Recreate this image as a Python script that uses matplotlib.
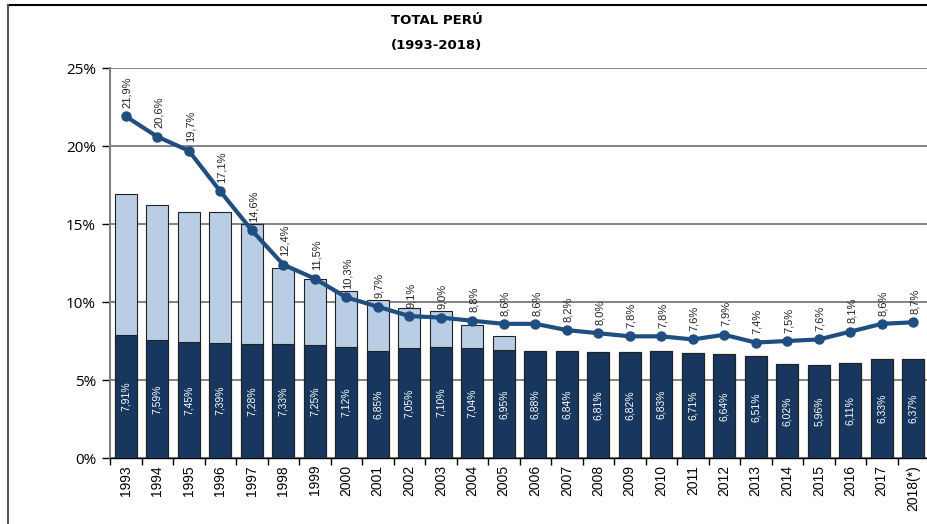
import matplotlib.pyplot as plt
from matplotlib.lines import Line2D

years = ["1993", "1994", "1995", "1996", "1997", "1998", "1999", "2000", "2001",
         "2002", "2003", "2004", "2005", "2006", "2007", "2008", "2009", "2010",
         "2011", "2012", "2013", "2014", "2015", "2016", "2017", "2018(*)"]

# dark bars (labelled values)
base = [7.91, 7.59, 7.45, 7.39, 7.28, 7.33, 7.25, 7.12, 6.85, 7.05, 7.10, 7.04,
        6.95, 6.88, 6.84, 6.81, 6.82, 6.83, 6.71, 6.64, 6.51, 6.02, 5.96, 6.11,
        6.33, 6.37]
base_lbl = ["7,91%", "7,59%", "7,45%", "7,39%", "7,28%", "7,33%", "7,25%", "7,12%",
            "6,85%", "7,05%", "7,10%", "7,04%", "6,95%", "6,88%", "6,84%", "6,81%",
            "6,82%", "6,83%", "6,71%", "6,64%", "6,51%", "6,02%", "5,96%", "6,11%",
            "6,33%", "6,37%"]

# total height of the light bars
total = [16.9, 16.2, 15.8, 15.75, 15.0, 12.15, 11.5, 10.7, 10.1, 9.6, 9.4, 8.5,
         7.8, 6.88, 6.84, 6.81, 6.82, 6.83, 6.71, 6.64, 6.51, 6.02, 5.96, 6.11,
         6.33, 6.37]

# line series
line = [21.9, 20.6, 19.7, 17.1, 14.6, 12.4, 11.5, 10.3, 9.7, 9.1, 9.0, 8.8, 8.6,
        8.6, 8.2, 8.0, 7.8, 7.8, 7.6, 7.9, 7.4, 7.5, 7.6, 8.1, 8.6, 8.7]

dark = "#17375E"
light = "#B9CDE5"
line_col = "#1F4E80"

plt.rcParams["font.family"] = ["Liberation Sans", "DejaVu Sans"]

fig = plt.figure(figsize=(9.27, 5.24), dpi=100)
ax = fig.add_axes([110 / 927, 1 - 458 / 524, 819 / 927, 390 / 524])

x = list(range(len(years)))
w = 0.7
ax.bar(x, total, w, color=light, edgecolor="#222222", linewidth=0.8, zorder=2)
ax.bar(x, base, w, color=dark, edgecolor="#222222", linewidth=0.8, zorder=3)

for i in x:
    ax.text(i, base[i] / 2, base_lbl[i], rotation=90, ha="center", va="center",
            color="white", fontsize=7.5, zorder=4)

ax.plot(x, line, color=line_col, lw=3, marker="o", ms=6.5, zorder=5)
for i in x:
    ax.annotate(f"{line[i]:.1f}%".replace(".", ","), (i, line[i]),
                xytext=(1, 6), textcoords="offset points", rotation=90,
                ha="center", va="bottom", fontsize=8, color="#222222", zorder=6)

ax.set_xlim(-0.5, len(years) - 0.5)
ax.set_ylim(0, 25)
ax.set_yticks([0, 5, 10, 15, 20, 25])
ax.set_yticklabels(["0%", "5%", "10%", "15%", "20%", "25%"], fontsize=11,
                   family=["Open Sans", "DejaVu Sans"])
ax.yaxis.grid(True, color="#6e6e6e", lw=1.2, zorder=1)
ax.set_axisbelow(True)

ax.set_xticks(x)
ax.set_xticklabels(years, rotation=90, fontsize=10)
ax.set_xticks([i + 0.5 for i in range(-1, len(years))], minor=True)
ax.tick_params(axis="x", which="major", length=0, pad=5)
ax.tick_params(axis="x", which="minor", length=5, width=1, color="black")
ax.tick_params(axis="y", length=6, width=1, color="black", pad=4)

for s in ["top", "right"]:
    ax.spines[s].set_visible(False)
ax.spines["left"].set_color("#808080")
ax.spines["left"].set_linewidth(1.5)
ax.spines["bottom"].set_color("black")
ax.spines["bottom"].set_linewidth(1)

fig.text(437 / 927, 1 - 20 / 524, "TOTAL PERÚ", ha="center", va="center",
         fontsize=9.5, fontweight="bold", family=["DejaVu Sans"])
fig.text(437 / 927, 1 - 45 / 524, "(1993-2018)", ha="center", va="center",
         fontsize=9.5, fontweight="bold", family=["DejaVu Sans"])

# outer frame (top and left edges visible)
fig.add_artist(Line2D([8 / 927, 1], [1 - 5 / 524, 1 - 5 / 524], color="black", lw=1.5))
fig.add_artist(Line2D([8 / 927, 8 / 927], [0, 1 - 5 / 524], color="#555555", lw=1.5))

fig.savefig("out.png", dpi=100)
